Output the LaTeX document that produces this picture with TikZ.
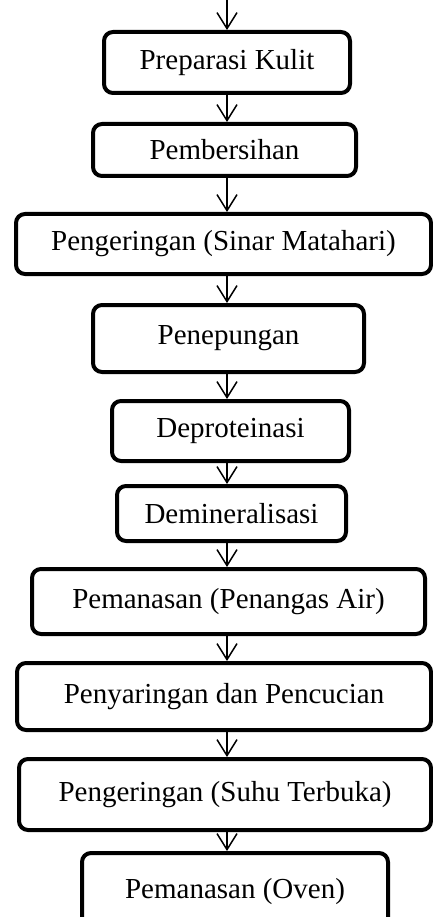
\documentclass[tikz,border=0pt]{standalone}
\usepackage{fontspec}
\setmainfont{Liberation Serif}
\usetikzlibrary{arrows.meta}
\newcommand{\boxfont}{\fontsize{29}{34}\selectfont}

\begin{document}
\begin{tikzpicture}[x=1pt,y=-1pt,
	stage/.style={draw, line width=4pt, rounded corners=9pt, inner sep=0pt, font=\boxfont},
	flow/.style={line width=1.5pt, -{Straight Barb[length=16pt,width=20pt,line width=1.5pt]}}]
	\useasboundingbox (0,0) rectangle (433,917);
	\coordinate (spine) at (227,0);

	\node[stage, minimum width=246pt, minimum height=61pt] (prep) at (227,62.5) {Preparasi Kulit};
	\node[stage, minimum width=263pt, minimum height=52pt] (clean) at (224.5,150) {Pembersihan};
	\node[stage, minimum width=415pt, minimum height=60pt] (sun) at (223.5,244) {Pengeringan (Sinar Matahari)};
	\node[stage, minimum width=271pt, minimum height=67pt] (flour) at (228.5,338.5) {Penepungan};
	\node[stage, minimum width=237pt, minimum height=60pt] (deprot) at (230.5,431) {Deproteinasi};
	\node[stage, minimum width=229pt, minimum height=55pt] (demin) at (231.5,513.5) {Demineralisasi};
	\node[stage, minimum width=393pt, minimum height=65pt] (bath) at (228.5,601.5) {Pemanasan (Penangas Air)};
	\node[stage, minimum width=414pt, minimum height=67pt] (wash) at (224,696.5) {Penyaringan dan Pencucian};
	\node[stage, minimum width=412pt, minimum height=71pt] (open) at (225,794.5) {Pengeringan (Suhu Terbuka)};
	\node[stage, minimum width=306pt, minimum height=77pt] (oven) at (235,891.5) {Pemanasan (Oven)};

	\draw[flow] (spine) -- (prep.north -| spine);
	\foreach \a/\b in {prep/clean, clean/sun, sun/flour, flour/deprot, deprot/demin,
		demin/bath, bath/wash, wash/open, open/oven}
		\draw[flow] (\a.south -| spine) -- (\b.north -| spine);
\end{tikzpicture}
\end{document}
